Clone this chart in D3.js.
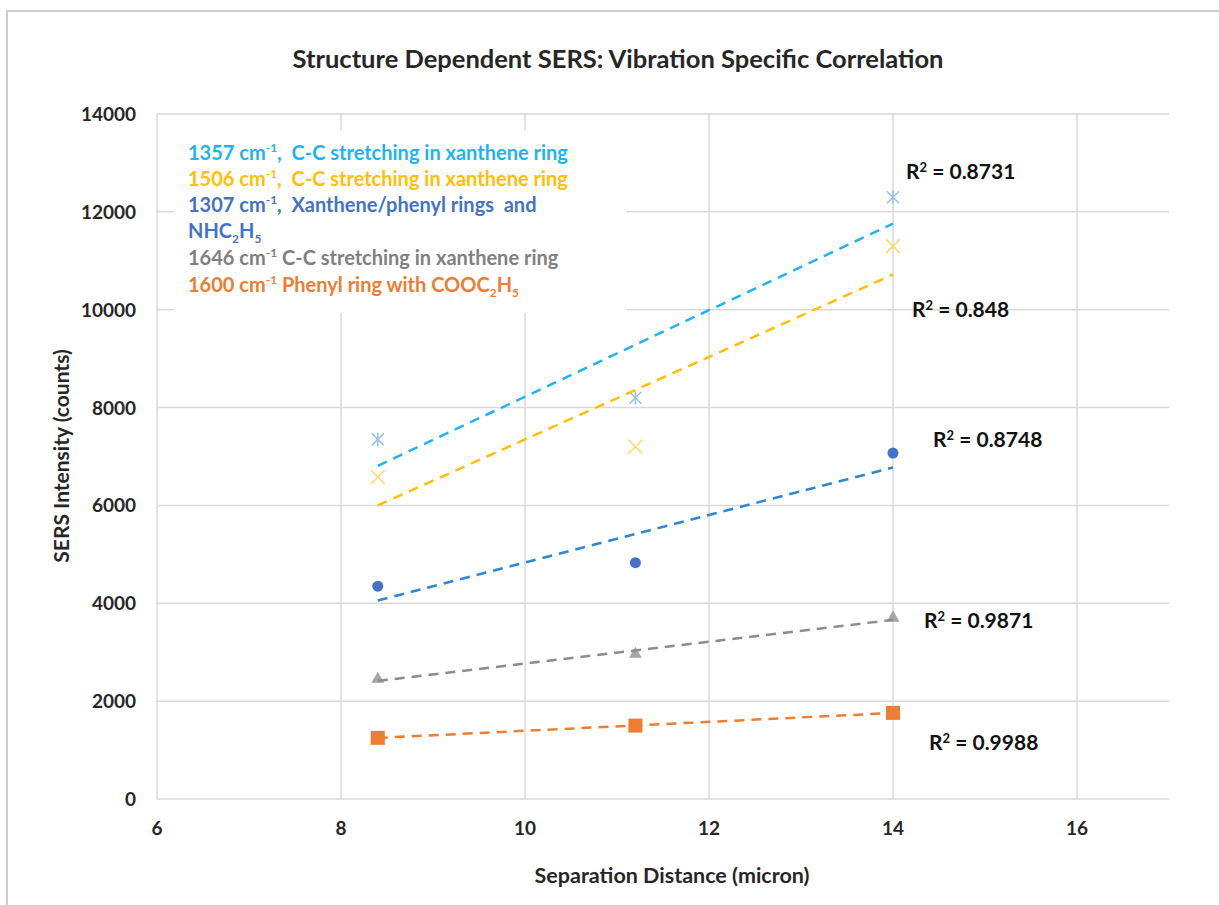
<!DOCTYPE html>
<html>
<head>
<meta charset="utf-8">
<script src="https://cdn.jsdelivr.net/npm/d3@7"></script>
<style>
  body { margin: 0; background: #fff; }
  svg { font-family: Lato, "Open Sans", sans-serif; }
  text { white-space: pre; }
</style>
</head>
<body>
<script>
// separation distances (micron)
var distances = [8.4, 11.2, 14];

// SERS intensity per band (counts)
var band1357 = [7350, 8200, 12300];
var band1506 = [6580, 7200, 11300];
var band1307 = [4350, 4830, 7070];
var band1646 = [2450, 2960, 3700];
var band1600 = [1250, 1500, 1760];

var r2Labels = ["0.8731", "0.848", "0.8748", "0.9871", "0.9988"];

var xTicks = [6, 8, 10, 12, 14, 16];
var yTicks = [0, 2000, 4000, 6000, 8000, 10000, 12000, 14000];

var svg = d3.select("body").append("svg")
  .attr("width", 1219)
  .attr("height", 905);

// outer chart frame (cut off right and bottom)
svg.append("rect")
  .attr("x", 7).attr("y", 11)
  .attr("width", 1300).attr("height", 1000)
  .attr("fill", "#fff")
  .attr("stroke", "#bfbfbf")
  .attr("stroke-width", 1.5);

var x = d3.scaleLinear().domain([6, 17]).range([157, 1169]);
var y = d3.scaleLinear().domain([0, 14000]).range([799, 114]);

// gridlines
svg.append("g").selectAll("line").data(yTicks).join("line")
  .attr("x1", x(6)).attr("x2", x(17))
  .attr("y1", d => y(d)).attr("y2", d => y(d))
  .attr("stroke", "#d9d9d9").attr("stroke-width", 1.5);

svg.append("g").selectAll("line").data(xTicks).join("line")
  .attr("x1", d => x(d)).attr("x2", d => x(d))
  .attr("y1", y(0)).attr("y2", y(14000))
  .attr("stroke", "#d9d9d9").attr("stroke-width", 1.5);

// tick labels
svg.append("g").selectAll("text").data(yTicks).join("text")
  .attr("x", 136).attr("y", d => y(d) + 7)
  .attr("text-anchor", "end")
  .attr("font-size", 19).attr("font-weight", "bold")
  .attr("fill", "#262626")
  .text(d => d);

svg.append("g").selectAll("text").data(xTicks).join("text")
  .attr("x", d => x(d)).attr("y", 835)
  .attr("text-anchor", "middle")
  .attr("font-size", 19).attr("font-weight", "bold")
  .attr("fill", "#262626")
  .text(d => d);

// axis titles
svg.append("text")
  .attr("x", 672).attr("y", 883)
  .attr("text-anchor", "middle")
  .attr("font-size", 21.5).attr("font-weight", "bold")
  .attr("fill", "#262626")
  .text("Separation Distance (micron)");

svg.append("text")
  .attr("transform", "translate(69,456) rotate(-90)")
  .attr("text-anchor", "middle")
  .attr("font-size", 21).attr("font-weight", "bold")
  .attr("fill", "#262626")
  .text("SERS Intensity (counts)");

// title
svg.append("text")
  .attr("x", 618).attr("y", 68)
  .attr("text-anchor", "middle")
  .attr("font-size", 25.5).attr("font-weight", "bold")
  .attr("fill", "#262626")
  .text("Structure Dependent SERS: Vibration Specific Correlation");

// series
var series = [
  { vals: band1357, trend: "#1fb4ef", mark: "#9dbfe8", shape: "star" },
  { vals: band1506, trend: "#ffc000", mark: "#ffd966", shape: "x" },
  { vals: band1307, trend: "#2e86d4", mark: "#4472c4", shape: "circle" },
  { vals: band1646, trend: "#8c8c8c", mark: "#a5a5a5", shape: "triangle" },
  { vals: band1600, trend: "#ed7d31", mark: "#ed7d31", shape: "square" }
];

function fit(xs, ys) {
  var mx = d3.mean(xs), my = d3.mean(ys);
  var sxy = d3.sum(xs, (v, i) => (v - mx) * (ys[i] - my));
  var sxx = d3.sum(xs, v => (v - mx) * (v - mx));
  var b = sxy / sxx;
  return { a: my - b * mx, b: b };
}

var line = d3.line().x(d => x(d[0])).y(d => y(d[1]));

series.forEach(function (s) {
  var pts = distances.map((d, i) => [d, s.vals[i]]);
  var f = fit(distances, s.vals);
  var x0 = d3.min(distances), x1 = d3.max(distances);

  var g = svg.append("g");
  pts.forEach(function (p) {
    var cx = x(p[0]), cy = y(p[1]);
    if (s.shape == "circle") {
      g.append("circle").attr("cx", cx).attr("cy", cy).attr("r", 5.5).attr("fill", s.mark);
    } else if (s.shape == "square") {
      g.append("rect").attr("x", cx - 7).attr("y", cy - 7).attr("width", 14).attr("height", 14).attr("fill", s.mark);
    } else if (s.shape == "triangle") {
      g.append("path").attr("d", d3.symbol(d3.symbolTriangle, 70)()).attr("transform", "translate(" + cx + "," + cy + ")").attr("fill", s.mark);
    } else if (s.shape == "x") {
      g.append("path").attr("d", "M-7,-7L7,7M-7,7L7,-7").attr("transform", "translate(" + cx + "," + cy + ")")
        .attr("stroke", s.mark).attr("stroke-width", 1.5).attr("fill", "none");
    } else {
      g.append("path").attr("d", "M-6,-6L6,6M-6,6L6,-6M0,-7L0,7").attr("transform", "translate(" + cx + "," + cy + ")")
        .attr("stroke", s.mark).attr("stroke-width", 1.5).attr("fill", "none");
    }
  });

  g.append("path")
    .datum([[x0, f.a + f.b * x0], [x1, f.a + f.b * x1]])
    .attr("d", line)
    .attr("fill", "none")
    .attr("stroke", s.trend)
    .attr("stroke-width", 2.5)
    .attr("stroke-dasharray", "10,7");
});

// R² labels
var r2Pos = [[906, 179], [912, 317], [933, 447], [924, 628], [929, 750]];
r2Labels.forEach(function (r, i) {
  var t = svg.append("text")
    .attr("x", r2Pos[i][0]).attr("y", r2Pos[i][1])
    .attr("font-size", 21).attr("font-weight", "bold")
    .attr("fill", "#111");
  t.append("tspan").text("R");
  t.append("tspan").attr("dy", -7).attr("font-size", 13).text("2");
  t.append("tspan").attr("dy", 7).text(" = " + r);
});

// legend box
svg.append("rect")
  .attr("x", 174).attr("y", 130)
  .attr("width", 453).attr("height", 183)
  .attr("fill", "#fff");

var legend = svg.append("g").attr("font-size", 20).attr("font-weight", "bold");

// parts: plain strings, or {up} / {down} for super- and subscripts
function legendLine(yy, color, parts) {
  var t = legend.append("text").attr("x", 188).attr("y", yy).attr("fill", color);
  var shift = 0;
  parts.forEach(function (p) {
    if (typeof p == "string") {
      t.append("tspan").attr("dy", -shift).text(p);
      shift = 0;
    } else if (p.up) {
      t.append("tspan").attr("dy", -8 - shift).attr("font-size", 12).text(p.up);
      shift = -8;
    } else {
      t.append("tspan").attr("dy", 5 - shift).attr("font-size", 12).text(p.down);
      shift = 5;
    }
  });
}

legendLine(160, "#1fb4ef", ["1357 cm", { up: "-1" }, ",  C-C stretching in xanthene ring"]);
legendLine(186, "#ffc000", ["1506 cm", { up: "-1" }, ",  C-C stretching in xanthene ring"]);
legendLine(212, "#4472c4", ["1307 cm", { up: "-1" }, ",  Xanthene/phenyl rings  and"]);
legendLine(238, "#4472c4", ["NHC", { down: "2" }, "H", { down: "5" }]);
legendLine(265, "#808080", ["1646 cm", { up: "-1" }, " C-C stretching in xanthene ring"]);
legendLine(292, "#ed7d31", ["1600 cm", { up: "-1" }, " Phenyl ring with COOC", { down: "2" }, "H", { down: "5" }]);
</script>
</body>
</html>
